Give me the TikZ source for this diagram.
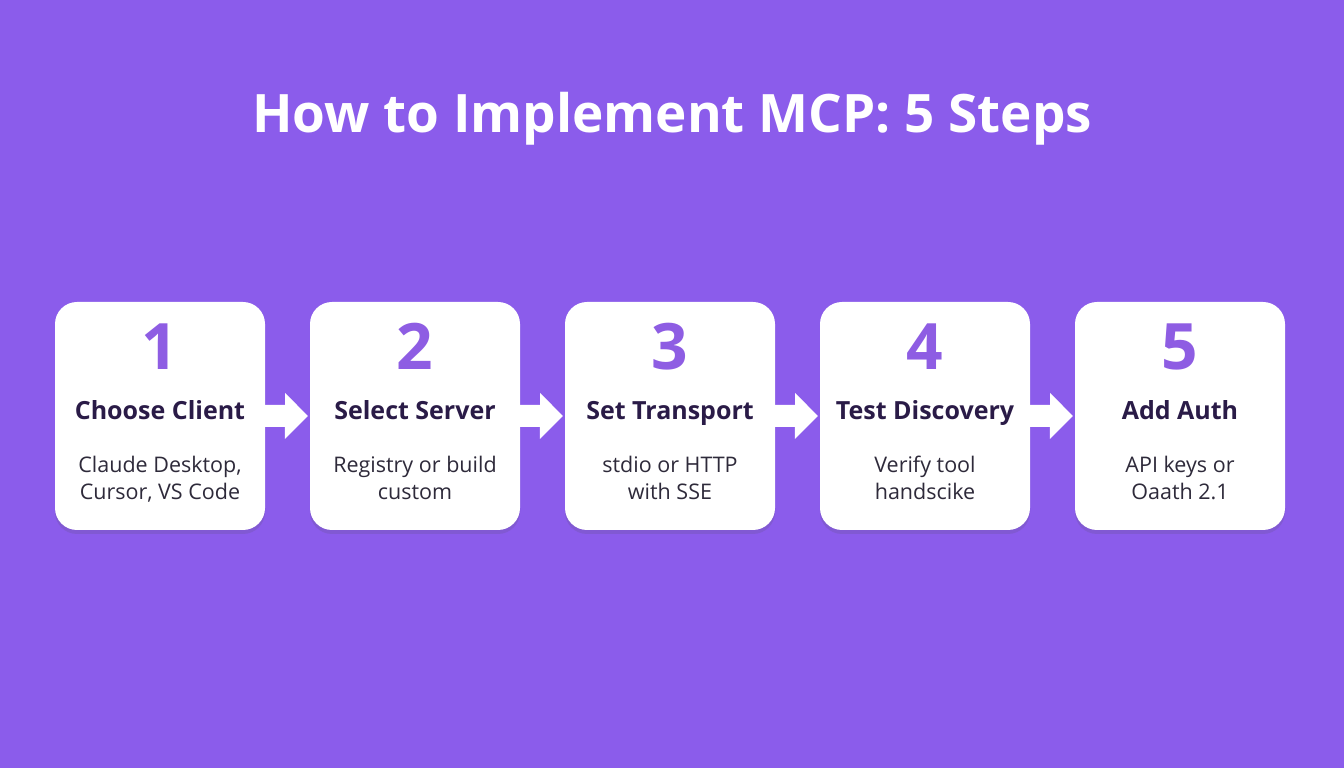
\documentclass[tikz,border=0pt]{standalone}
\usepackage{fontspec}
\setmainfont{Open Sans}
\usetikzlibrary{shadows}
\definecolor{bg}{HTML}{8B5CEB}
\definecolor{numc}{HTML}{8E5DE3}
\definecolor{headc}{HTML}{2A1B47}
\definecolor{bodyc}{HTML}{2E2A3A}
\tikzset{
  x=1pt,y=1pt,
  stepbox/.style={fill=white, rounded corners=22pt, minimum width=210pt, minimum height=228pt, inner sep=0pt,
    drop shadow={shadow xshift=0pt, shadow yshift=-4pt, opacity=0.15, fill=black!70}},
  numtxt/.style={text=numc, font=\fontsize{64}{64}\selectfont\bfseries, inner sep=0pt, anchor=base},
  headtxt/.style={text=headc, font=\fontsize{25}{25}\selectfont\bfseries, inner sep=0pt, anchor=base},
  bodytxt/.style={text=bodyc, font=\fontsize{21.5}{27}\selectfont, inner sep=0pt, anchor=base},
  flowarrow/.style={fill=white},
}
\newcommand{\mkstep}[5]{%
  \pgfmathsetmacro{\cx}{160+255*(#1-1)}
  \node[stepbox] (box#1) at (\cx,768-416) {};
  \node[numtxt] (num#1) at (\cx,768-370) {#2};
  \node[headtxt] (head#1) at (\cx,768-420) {#3};
  \node[bodytxt] (bodya#1) at (\cx,768-473) {#4};
  \node[bodytxt] (bodyb#1) at (\cx,768-500) {#5};
}
\newcommand{\mkarrow}[2]{%
  \fill[flowarrow] ([yshift=11pt]box#1.east) -- ++(20,0) -- ++(0,12) -- ([xshift=-2pt]box#2.west) -- ++(-23,-23) -- ++(0,12) -- ([yshift=-11pt]box#1.east) -- cycle;
}
\begin{document}
\begin{tikzpicture}
\fill[bg] (0,0) rectangle (1344,768);
\useasboundingbox (0,0) rectangle (1344,768);
\node[text=white, font=\fontsize{53}{53}\selectfont\bfseries, inner sep=0pt, anchor=base] (title) at (672,768-133) {How to Implement MCP: 5 Steps};
\mkstep{1}{1}{Choose Client}{Claude Desktop,}{Cursor, VS Code}
\mkstep{2}{2}{Select Server}{Registry or build}{custom}
\mkstep{3}{3}{Set Transport}{stdio or HTTP}{with SSE}
\mkstep{4}{4}{Test Discovery}{Verify tool}{handscike}
\mkstep{5}{5}{Add Auth}{API keys or}{Oaath 2.1}
\mkarrow{1}{2}
\mkarrow{2}{3}
\mkarrow{3}{4}
\mkarrow{4}{5}
\end{tikzpicture}
\end{document}
